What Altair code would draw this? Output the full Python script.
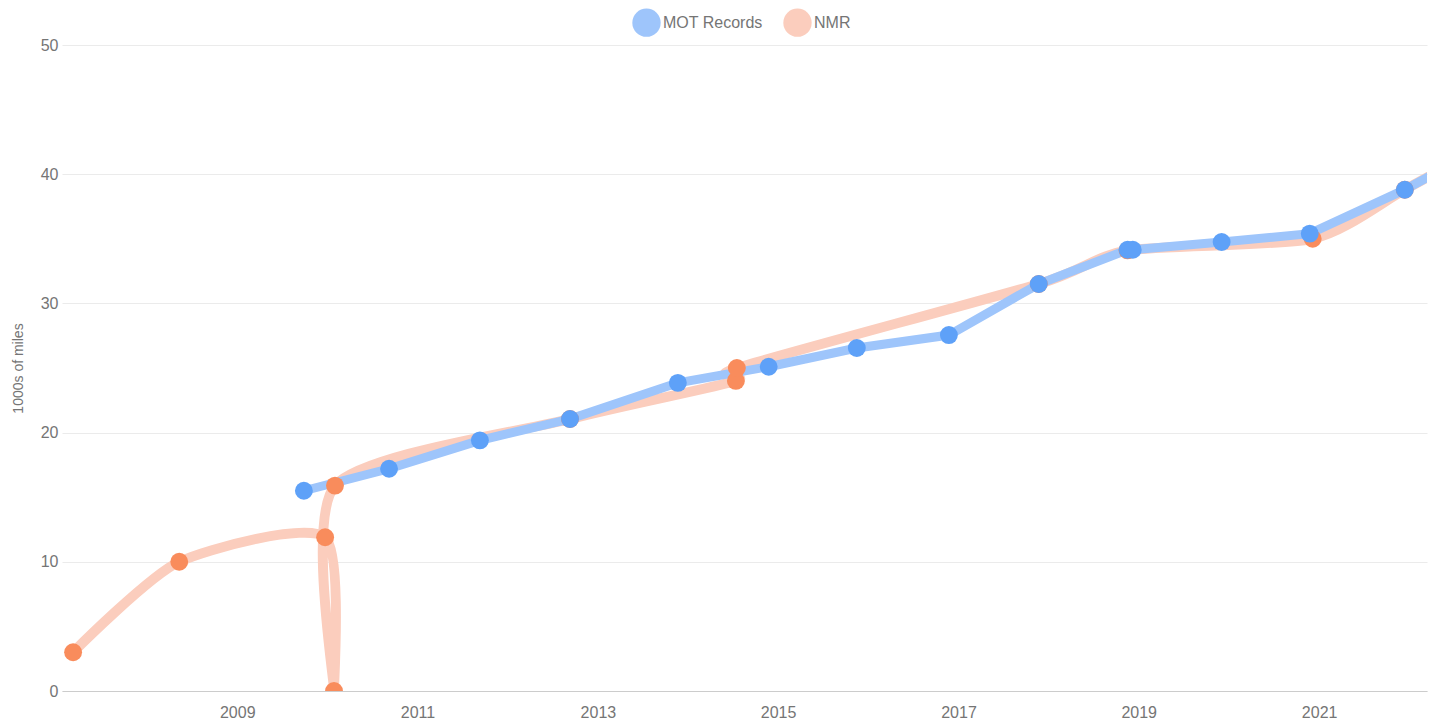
import altair as alt
import pandas as pd

# ---- data ----
mot_dates = ["2009-09-28", "2010-09-08", "2011-09-11", "2012-09-10", "2013-11-21",
             "2014-11-24", "2015-11-16", "2016-11-23", "2017-11-22", "2018-11-17",
             "2018-12-08", "2019-12-03", "2020-11-24", "2021-12-14", "2022-12-12"]
mot_miles = [15.5, 17.2, 19.4, 21.05, 23.85, 25.1, 26.55, 27.55, 31.5, 34.15,
             34.15, 34.75, 35.4, 38.8, 42.6]

nmr_dates = ["2007-03-08", "2008-05-11", "2009-12-23", "2010-01-28", "2010-02-01",
             "2012-09-10", "2014-07-14", "2014-07-18", "2017-11-22", "2018-11-17",
             "2020-12-06", "2021-12-14", "2022-12-12"]
nmr_miles = [3.0, 10.0, 11.9, 0.0, 15.9, 21.05, 24.0, 25.0, 31.5, 34.1, 35.0, 38.8, 42.6]

series_names = ["MOT Records", "NMR"]
tick_years = [2009, 2011, 2013, 2015, 2017, 2019, 2021]
y_ticks = [0, 10, 20, 30, 40, 50]

mot = pd.DataFrame({"date": pd.to_datetime(mot_dates), "miles": mot_miles, "series": "MOT Records"})
nmr = pd.DataFrame({"date": pd.to_datetime(nmr_dates), "miles": nmr_miles, "series": "NMR"})
both = pd.concat([mot, nmr], ignore_index=True)

BLUE_LINE = "#9ec5fb"
BLUE_PT = "#5ea1f8"
ORANGE_LINE = "#fbcdbd"
ORANGE_PT = "#f98c5c"
FONT = "Liberation Sans"
GRAY = "#757575"

xs = alt.Scale(domain=[alt.DateTime(year=2007, month=1, date=22),
                       alt.DateTime(year=2022, month=3, date=14)])
ys = alt.Scale(domain=[0, 50], nice=False)

x_enc = alt.X("date:T", scale=xs, title=None,
              axis=alt.Axis(values=[alt.DateTime(year=y, month=1, date=1) for y in tick_years],
                            format="%Y", labelFontSize=16, labelColor=GRAY, labelFont=FONT,
                            ticks=False, grid=False, domain=True, domainColor="#cccccc",
                            domainWidth=1, labelPadding=13, labelFlush=False))
y_enc = alt.Y("miles:Q", scale=ys, title="1000s of miles",
              axis=alt.Axis(values=y_ticks, format="d", labelFontSize=16, labelColor=GRAY,
                            labelFont=FONT, ticks=False, domain=False, gridColor="#ebebeb",
                            labelPadding=4, titleFont=FONT, titleFontSize=14,
                            titleFontWeight="normal", titleColor=GRAY, titleX=-44,
                            titleY=323, titleAngle=270, titleAlign="center",
                            titleBaseline="middle"))

nmr_line = alt.Chart(nmr).mark_line(color=ORANGE_LINE, strokeWidth=10, interpolate="cardinal",
                                    tension=0.3, clip=True).encode(x=x_enc, y=y_enc)
mot_line = alt.Chart(mot).mark_line(color=BLUE_LINE, strokeWidth=9, clip=True).encode(x=x_enc, y=y_enc)
nmr_pts = alt.Chart(nmr).mark_point(filled=True, color=ORANGE_PT, size=320, opacity=1,
                                    clip=True).encode(x=x_enc, y=y_enc)
mot_pts = alt.Chart(mot).mark_point(filled=True, color=BLUE_PT, size=320, opacity=1,
                                    clip=True).encode(x=x_enc, y=y_enc)
legend_layer = alt.Chart(both).mark_point(filled=True, opacity=0, clip=True).encode(
    x=x_enc, y=y_enc,
    color=alt.Color("series:N",
                    scale=alt.Scale(domain=series_names, range=[BLUE_LINE, ORANGE_LINE]),
                    legend=alt.Legend(title=None, orient="none", legendX=570, legendY=-37,
                                      direction="horizontal", symbolType="circle",
                                      symbolSize=804, symbolOpacity=1, symbolStrokeWidth=0,
                                      labelFontSize=16, labelColor=GRAY, labelFont=FONT,
                                      labelOffset=2, columnPadding=20)))

chart = alt.layer(nmr_line, mot_line, nmr_pts, mot_pts, legend_layer).properties(
    width=1365, height=646,
    autosize=alt.AutoSizeParams(type="none"),
    padding={"left": 54, "top": 37, "right": 1, "bottom": 30},
).configure_view(stroke=None)

chart.save("out.html", embed_options={"renderer": "svg", "actions": False})
